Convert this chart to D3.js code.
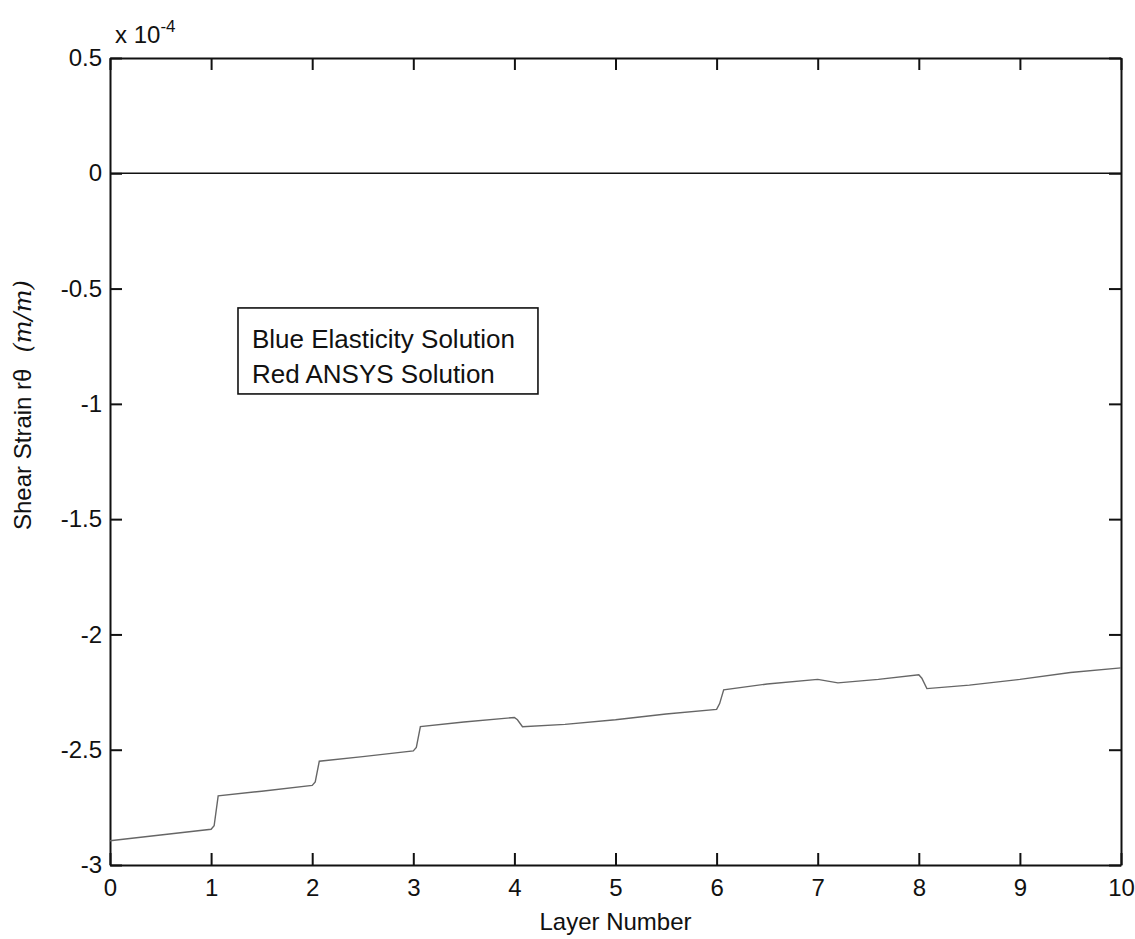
<!DOCTYPE html>
<html>
<head>
<meta charset="utf-8">
<script src="https://cdn.jsdelivr.net/npm/d3@7"></script>
<style>
  body { margin: 0; background: #fff; }
  svg text { font-family: "Liberation Sans", Arial, sans-serif; fill: #111; }
</style>
</head>
<body>
<svg id="chart"></svg>
<script>
// Layer positions and shear strain (units of 1e-4 m/m)
const layerX = [0, 0.5, 1.0, 1.03, 1.07, 1.5, 2.0, 2.03, 2.07, 2.5, 3.0, 3.03, 3.07, 3.5, 4.0, 4.03, 4.08,
  4.5, 5.0, 5.5, 6.0, 6.03, 6.07, 6.5, 7.0, 7.2, 7.6, 8.0, 8.03, 8.08, 8.5, 9.0, 9.5, 10];
const strainY = [-2.895, -2.87, -2.845, -2.83, -2.70, -2.68, -2.655, -2.64, -2.55, -2.53, -2.505, -2.49, -2.40,
  -2.38, -2.36, -2.37, -2.40, -2.39, -2.37, -2.345, -2.325, -2.30, -2.24, -2.215, -2.195, -2.21, -2.195,
  -2.175, -2.19, -2.235, -2.22, -2.195, -2.165, -2.145];
const zeroX = [0, 10];
const zeroY = [0, 0];
const xTicks = [0, 1, 2, 3, 4, 5, 6, 7, 8, 9, 10];
const yTicks = [0.5, 0, -0.5, -1, -1.5, -2, -2.5, -3];
const legendLines = ["Blue Elasticity Solution", "Red ANSYS Solution"];

const config = {
  width: 1135,
  height: 939,
  margin: { top: 58, right: 14, bottom: 74, left: 110 }
};

const innerW = config.width - config.margin.left - config.margin.right;
const innerH = config.height - config.margin.top - config.margin.bottom;

const svg = d3.select("#chart")
  .attr("width", config.width)
  .attr("height", config.height);

const chart = svg.append("g")
  .attr("transform", `translate(${config.margin.left},${config.margin.top})`);

const xScale = d3.scaleLinear().domain([0, 10]).range([0, innerW]);
const yScale = d3.scaleLinear().domain([-3, 0.5]).range([innerH, 0]);

const fmt = d => String(d);
const tickLen = 12;

// Axes: ticks point inward like the original plot box
const bottomAxis = d3.axisBottom(xScale).tickValues(xTicks).tickFormat(fmt).tickSize(-tickLen).tickPadding(14).tickSizeOuter(0);
const topAxis = d3.axisTop(xScale).tickValues(xTicks).tickFormat("").tickSize(-tickLen).tickSizeOuter(0);
const leftAxis = d3.axisLeft(yScale).tickValues(yTicks).tickFormat(fmt).tickSize(-tickLen).tickPadding(8).tickSizeOuter(0);
const rightAxis = d3.axisRight(yScale).tickValues(yTicks).tickFormat("").tickSize(-tickLen).tickSizeOuter(0);

const bG = chart.append("g").attr("transform", `translate(0,${innerH})`).call(bottomAxis);
const tG = chart.append("g").call(topAxis);
const lG = chart.append("g").call(leftAxis);
const rG = chart.append("g").attr("transform", `translate(${innerW},0)`).call(rightAxis);

[bG, tG, lG, rG].forEach(g => {
  g.select(".domain").attr("stroke", "#111").attr("stroke-width", 2);
  g.selectAll(".tick line").attr("stroke", "#111").attr("stroke-width", 2);
  g.selectAll(".tick text").style("font-size", "24px").attr("fill", "#111");
});

// zero line
const line = d3.line().x(d => xScale(d[0])).y(d => yScale(d[1]));
chart.append("path")
  .datum(zeroX.map((x, i) => [x, zeroY[i]]))
  .attr("d", line)
  .attr("fill", "none")
  .attr("stroke", "#111")
  .attr("stroke-width", 1.6);

// strain curve
chart.append("path")
  .datum(layerX.map((x, i) => [x, strainY[i]]))
  .attr("d", line)
  .attr("fill", "none")
  .attr("stroke", "#666")
  .attr("stroke-width", 1.4);

// legend text box (placed in data coordinates)
const legX = xScale(1.266), legY = yScale(-0.584);
const leg = chart.append("g").attr("transform", `translate(${legX},${legY})`);
const legRect = leg.append("rect").attr("fill", "#fff").attr("stroke", "#111").attr("stroke-width", 1.6);
leg.selectAll("text.leg")
  .data(legendLines)
  .join("text")
  .attr("class", "leg")
  .attr("x", 14)
  .attr("y", (d, i) => 40 + i * 35)
  .style("font-size", "26px")
  .text(d => d);
legRect
  .attr("width", xScale(4.233) - xScale(1.266))
  .attr("height", yScale(-0.957) - yScale(-0.584));

// axis labels
svg.append("text")
  .attr("x", config.margin.left + innerW / 2)
  .attr("y", 930)
  .attr("text-anchor", "middle")
  .style("font-size", "24px")
  .text("Layer Number");

const yl = svg.append("text")
  .attr("transform", "translate(31,530) rotate(-90)")
  .attr("text-anchor", "start")
  .style("font-size", "24px");
yl.append("tspan").text("Shear Strain r\u03b8");
yl.append("tspan")
  .attr("dx", 16)
  .style("font-family", "'DejaVu Serif', 'Liberation Serif', serif")
  .style("font-style", "italic")
  .style("font-size", "24px")
  .text("(m/m)");

// exponent label
const ex = svg.append("text")
  .attr("x", 115)
  .attr("y", 43)
  .style("font-size", "24px");
ex.append("tspan").text("x 10");
ex.append("tspan").attr("dy", -11).style("font-size", "17px").text("-4");
</script>
</body>
</html>
